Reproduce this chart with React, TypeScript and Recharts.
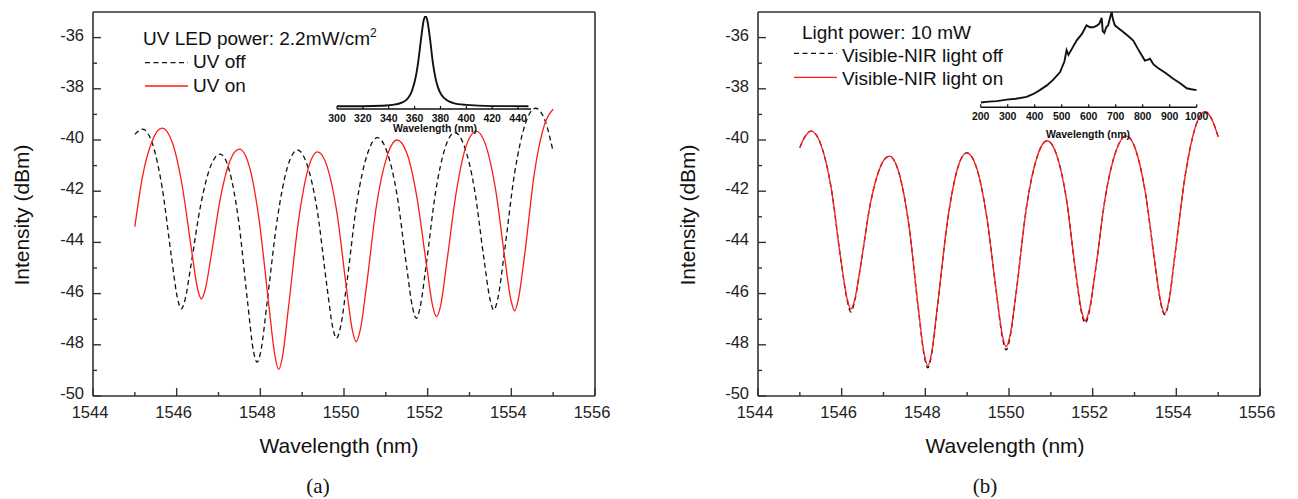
import { LineChart, Line, XAxis, YAxis, ReferenceLine } from "recharts";

const FONT = '"Liberation Sans", Arial, sans-serif';
const AXIS = "#333";
const DASH = "5 3.5";

// panel (a): [wavelength nm, dBm]
const uvOff: [number, number][] = [
  [1545.0, -39.78], [1545.19, -39.58], [1545.42, -40.14], [1545.65, -41.83], [1545.88, -44.63],
  [1546.02, -46.18], [1546.11, -46.6], [1546.2, -46.24], [1546.34, -44.91], [1546.58, -42.49],
  [1546.81, -41.03], [1547.04, -40.55], [1547.26, -41.2], [1547.48, -43.15], [1547.7, -46.4],
  [1547.83, -48.19], [1547.92, -48.68], [1548.02, -48.18], [1548.16, -46.36], [1548.41, -43.04],
  [1548.65, -41.05], [1548.89, -40.39], [1549.12, -40.98], [1549.36, -42.75], [1549.59, -45.69],
  [1549.73, -47.31], [1549.82, -47.75], [1549.92, -47.28], [1550.07, -45.55], [1550.31, -42.42],
  [1550.56, -40.54], [1550.8, -39.91], [1551.03, -40.47], [1551.27, -42.17], [1551.5, -44.99],
  [1551.64, -46.55], [1551.73, -46.97], [1551.82, -46.53], [1551.96, -44.94], [1552.19, -42.03],
  [1552.42, -40.29], [1552.65, -39.71], [1552.88, -40.26], [1553.12, -41.93], [1553.35, -44.7],
  [1553.49, -46.22], [1553.58, -46.64], [1553.68, -46.17], [1553.83, -44.43], [1554.08, -41.28],
  [1554.33, -39.39], [1554.58, -38.76], [1554.81, -39.26], [1555.0, -40.46],
];

const uvOn: [number, number][] = [
  [1545.0, -43.39], [1545.18, -41.46], [1545.42, -40.02], [1545.65, -39.54], [1545.89, -40.07],
  [1546.12, -41.67], [1546.36, -44.34], [1546.5, -45.81], [1546.59, -46.21], [1546.68, -45.86],
  [1546.82, -44.57], [1547.05, -42.23], [1547.27, -40.83], [1547.5, -40.36], [1547.74, -41.05],
  [1547.97, -43.11], [1548.21, -46.55], [1548.35, -48.44], [1548.44, -48.96], [1548.53, -48.45],
  [1548.67, -46.58], [1548.91, -43.18], [1549.14, -41.14], [1549.37, -40.46], [1549.6, -41.05],
  [1549.83, -42.83], [1550.06, -45.8], [1550.2, -47.43], [1550.29, -47.88], [1550.39, -47.41],
  [1550.54, -45.67], [1550.78, -42.52], [1551.03, -40.63], [1551.27, -40.0], [1551.51, -40.55],
  [1551.74, -42.21], [1551.98, -44.97], [1552.12, -46.49], [1552.21, -46.9], [1552.31, -46.47],
  [1552.45, -44.87], [1552.69, -41.97], [1552.92, -40.23], [1553.16, -39.65], [1553.39, -40.21],
  [1553.62, -41.9], [1553.85, -44.7], [1553.99, -46.25], [1554.08, -46.67], [1554.17, -46.2],
  [1554.32, -44.46], [1554.55, -41.3], [1554.79, -39.41], [1555.0, -38.8],
];

// panel (b)
const visOff: [number, number][] = [
  [1545.0, -40.29], [1545.13, -39.85], [1545.27, -39.65], [1545.51, -40.21], [1545.75, -41.88],
  [1545.98, -44.68], [1546.13, -46.25], [1546.22, -46.72], [1546.31, -46.3], [1546.45, -44.96],
  [1546.68, -42.54], [1546.91, -41.11], [1547.14, -40.63], [1547.37, -41.29], [1547.6, -43.25],
  [1547.83, -46.56], [1547.97, -48.4], [1548.06, -48.9], [1548.15, -48.38], [1548.29, -46.52],
  [1548.53, -43.16], [1548.76, -41.17], [1548.99, -40.5], [1549.23, -41.11], [1549.46, -42.92],
  [1549.7, -45.98], [1549.84, -47.7], [1549.93, -48.2], [1550.03, -47.66], [1550.18, -45.85],
  [1550.42, -42.6], [1550.67, -40.67], [1550.91, -40.03], [1551.14, -40.59], [1551.37, -42.28],
  [1551.59, -45.12], [1551.73, -46.72], [1551.82, -47.15], [1551.92, -46.7], [1552.07, -45.06],
  [1552.31, -42.15], [1552.56, -40.42], [1552.8, -39.84], [1553.03, -40.39], [1553.26, -42.06],
  [1553.49, -44.85], [1553.63, -46.4], [1553.72, -46.82], [1553.82, -46.34], [1553.96, -44.58],
  [1554.21, -41.41], [1554.45, -39.52], [1554.69, -38.89], [1554.85, -39.2], [1555.0, -39.87],
];

const visOn: [number, number][] = [
  [1545.0, -40.29], [1545.13, -39.85], [1545.27, -39.65], [1545.51, -40.21], [1545.75, -41.88],
  [1545.98, -44.66], [1546.13, -46.19], [1546.22, -46.61], [1546.31, -46.25], [1546.45, -44.94],
  [1546.68, -42.54], [1546.91, -41.11], [1547.14, -40.63], [1547.37, -41.29], [1547.6, -43.25],
  [1547.83, -46.53], [1547.97, -48.33], [1548.06, -48.82], [1548.15, -48.32], [1548.29, -46.49],
  [1548.53, -43.16], [1548.76, -41.17], [1548.99, -40.5], [1549.23, -41.11], [1549.46, -42.92],
  [1549.7, -45.95], [1549.84, -47.62], [1549.93, -48.07], [1550.03, -47.59], [1550.18, -45.82],
  [1550.42, -42.6], [1550.67, -40.67], [1550.91, -40.03], [1551.14, -40.59], [1551.37, -42.28],
  [1551.59, -45.09], [1551.73, -46.64], [1551.82, -47.06], [1551.92, -46.63], [1552.07, -45.04],
  [1552.31, -42.15], [1552.56, -40.42], [1552.8, -39.84], [1553.03, -40.39], [1553.26, -42.06],
  [1553.49, -44.83], [1553.63, -46.35], [1553.72, -46.77], [1553.82, -46.3], [1553.96, -44.56],
  [1554.21, -41.41], [1554.45, -39.52], [1554.69, -38.89], [1554.85, -39.2], [1555.0, -39.87],
];

// insets: [wavelength nm, relative intensity]
const uvLed: [number, number][] = [
  [300, 0.01], [320, 0.01], [335, 0.015], [345, 0.03], [350, 0.05], [355, 0.1], [358, 0.18],
  [361, 0.34], [363, 0.52], [365, 0.75], [367, 0.95], [368.5, 1.0], [370, 0.94], [372, 0.74],
  [374, 0.5], [376, 0.33], [378, 0.22], [381, 0.13], [385, 0.075], [390, 0.045], [400, 0.025],
  [420, 0.012], [448, 0.01],
];

const lamp: [number, number][] = [
  [200, 0.05], [230, 0.06], [260, 0.065], [296, 0.08], [330, 0.09], [370, 0.11], [395, 0.14],
  [419, 0.18], [445, 0.23], [469, 0.29], [494, 0.37], [510, 0.48], [518, 0.6], [525, 0.55],
  [535, 0.6], [555, 0.7], [575, 0.77], [592, 0.86], [605, 0.84], [617, 0.84], [632, 0.86],
  [640, 0.88], [648, 0.94], [652, 0.8], [658, 0.78], [665, 0.84], [672, 0.86], [680, 0.95],
  [685, 1.0], [690, 0.92], [697, 0.86], [710, 0.83], [728, 0.79], [745, 0.75], [765, 0.7],
  [785, 0.6], [808, 0.49], [820, 0.5], [827, 0.51], [840, 0.45], [858, 0.41], [885, 0.36],
  [913, 0.3], [940, 0.25], [963, 0.2], [980, 0.19], [1000, 0.18],
];

const mainXTicks = [1544, 1545, 1546, 1547, 1548, 1549, 1550, 1551, 1552, 1553, 1554, 1555, 1556];
const mainYTicks = [-50, -49, -48, -47, -46, -45, -44, -43, -42, -41, -40, -39, -38, -37, -36];
const ledTicks = [300, 320, 340, 360, 380, 400, 420, 440];
const lampTicks = [200, 300, 400, 500, 600, 700, 800, 900, 1000];

const rows = (pts: [number, number][]) => pts.map(([x, y]) => ({ x, y }));

function XTick(props: any) {
  const { x, y, payload } = props;
  const major = payload.value % 2 === 0;
  return (
    <g>
      <line x1={x} x2={x} y1={y} y2={y - (major ? 8 : 4)} stroke={AXIS} strokeWidth={1.4} />
      {major && (
        <text x={x - 3} y={y + 22} textAnchor="middle" fontSize={16.5} fontFamily={FONT} fill="#222">
          {payload.value}
        </text>
      )}
    </g>
  );
}

function YTick(props: any) {
  const { x, y, payload } = props;
  const major = payload.value % 2 === 0;
  return (
    <g>
      <line x1={x} x2={x + (major ? 8 : 4)} y1={y} y2={y} stroke={AXIS} strokeWidth={1.4} />
      {major && (
        <text x={x - 9} y={y + 3} textAnchor="end" fontSize={16.5} fontFamily={FONT} fill="#222">
          {payload.value}
        </text>
      )}
    </g>
  );
}

function InsetTick(props: any) {
  const { x, y, payload } = props;
  return (
    <g>
      <line x1={x} x2={x} y1={y} y2={y - 3} stroke="#111" strokeWidth={1.2} />
      <text x={x} y={y + 12.5} textAnchor="middle" fontSize={10.5} fontWeight="bold" fontFamily={FONT} fill="#111">
        {payload.value}
      </text>
    </g>
  );
}

type Series = { pts: [number, number][]; color: string; dashed?: boolean };

function MainPanel({ left, width, marginRight, series }: { left: number; width: number; marginRight: number; series: Series[] }) {
  return (
    <div style={{ position: "absolute", left, top: 0 }}>
      <LineChart width={width} height={499} margin={{ top: 12, right: marginRight, bottom: 73, left: 33 }}>
        <XAxis
          type="number"
          dataKey="x"
          domain={[1544, 1556]}
          ticks={mainXTicks}
          interval={0}
          height={30}
          tickSize={0}
          tickMargin={0}
          tickLine={false}
          axisLine={{ stroke: AXIS, strokeWidth: 1.6 }}
          tick={(p: any) => <XTick {...p} />}
          allowDataOverflow
        />
        <YAxis
          type="number"
          domain={[-50, -35]}
          ticks={mainYTicks}
          interval={0}
          width={60}
          tickSize={0}
          tickMargin={0}
          tickLine={false}
          axisLine={{ stroke: AXIS, strokeWidth: 1.6 }}
          tick={(p: any) => <YTick {...p} />}
          allowDataOverflow
        />
        <ReferenceLine y={-35} stroke={AXIS} strokeWidth={1.6} />
        <ReferenceLine x={1556} stroke={AXIS} strokeWidth={1.6} />
        {series.map((s, i) => (
          <Line
            key={i}
            data={rows(s.pts)}
            dataKey="y"
            type="monotone"
            stroke={s.color}
            strokeWidth={1.3}
            strokeDasharray={s.dashed ? DASH : undefined}
            dot={false}
            isAnimationActive={false}
          />
        ))}
      </LineChart>
    </div>
  );
}

function Inset(props: {
  left: number; width: number; mLeft: number; mRight: number; mTop: number; axisY: number;
  domain: [number, number]; ticks: number[]; yDomain: [number, number]; pts: [number, number][]; curve: "monotone" | "linear";
}) {
  const h = 140;
  return (
    <div style={{ position: "absolute", left: props.left, top: 0 }}>
      <LineChart width={props.width} height={h} margin={{ top: props.mTop, right: props.mRight, bottom: h - props.axisY - 20, left: props.mLeft }}>
        <XAxis
          type="number"
          dataKey="x"
          domain={props.domain}
          ticks={props.ticks}
          interval={0}
          height={20}
          tickSize={0}
          tickMargin={0}
          tickLine={false}
          axisLine={{ stroke: "#111", strokeWidth: 1.5 }}
          tick={(p: any) => <InsetTick {...p} />}
          allowDataOverflow
        />
        <YAxis type="number" domain={props.yDomain} hide allowDataOverflow />
        <Line data={rows(props.pts)} dataKey="y" type={props.curve} stroke="#111" strokeWidth={1.9} dot={false} isAnimationActive={false} />
      </LineChart>
    </div>
  );
}

export default function App() {
  return (
    <div style={{ position: "absolute", left: 0, top: 0, width: 1298, height: 499, overflow: "hidden", background: "#fff" }}>
      <MainPanel left={0} width={640} marginRight={45} series={[{ pts: uvOff, color: "#111", dashed: true }, { pts: uvOn, color: "#ff1a1a" }]} />
      <MainPanel left={665} width={633} marginRight={38} series={[{ pts: visOff, color: "#111", dashed: true }, { pts: visOn, color: "#ff1a1a" }]} />
      <Inset left={300} width={260} mLeft={37} mRight={29} mTop={16} axisY={109} domain={[300, 450]} ticks={ledTicks} yDomain={[-0.02, 1.0]} pts={uvLed} curve="monotone" />
      <Inset left={940} width={290} mLeft={40.7} mRight={33.3} mTop={12} axisY={107.3} domain={[200, 1000]} ticks={lampTicks} yDomain={[0, 1.0]} pts={lamp} curve="linear" />
      <svg width={1298} height={499} style={{ position: "absolute", left: 0, top: 0, pointerEvents: "none" }} fontFamily={FONT} fill="#111">
        <text x={29} y={215} transform="rotate(-90 29 215)" textAnchor="middle" fontSize={21}>Intensity (dBm)</text>
        <text x={695} y={215} transform="rotate(-90 695 215)" textAnchor="middle" fontSize={21}>Intensity (dBm)</text>
        <text x={339} y={453} textAnchor="middle" fontSize={21}>Wavelength (nm)</text>
        <text x={1005} y={453} textAnchor="middle" fontSize={21}>Wavelength (nm)</text>
        <text x={318} y={493} textAnchor="middle" fontSize={21} fontFamily='"Liberation Serif", "Times New Roman", serif'>(a)</text>
        <text x={985} y={493} textAnchor="middle" fontSize={21} fontFamily='"Liberation Serif", "Times New Roman", serif'>(b)</text>
        <text x={435} y={132} textAnchor="middle" fontSize={10.5} fontWeight="bold">Wavelength (nm)</text>
        <text x={1088} y={138} textAnchor="middle" fontSize={10.5} fontWeight="bold">Wavelength (nm)</text>

        <text x={143} y={45} fontSize={19}>
          UV LED power: 2.2mW/cm<tspan dy={-8} fontSize={12}>2</tspan>
        </text>
        <line x1={145} x2={188} y1={62.7} y2={62.7} stroke="#111" strokeWidth={1.3} strokeDasharray={DASH} />
        <text x={193} y={68.3} fontSize={19}>UV off</text>
        <line x1={145} x2={188} y1={86} y2={86} stroke="#ff1a1a" strokeWidth={1.3} />
        <text x={193} y={91.7} fontSize={19}>UV on</text>

        <text x={802} y={39} fontSize={19}>Light power: 10 mW</text>
        <line x1={794} x2={837} y1={53.3} y2={53.3} stroke="#111" strokeWidth={1.3} strokeDasharray={DASH} />
        <text x={842} y={61.7} fontSize={19}>Visible-NIR light off</text>
        <line x1={794} x2={837} y1={77.3} y2={77.3} stroke="#ff1a1a" strokeWidth={1.3} />
        <text x={842} y={85} fontSize={19}>Visible-NIR light on</text>
      </svg>
    </div>
  );
}
